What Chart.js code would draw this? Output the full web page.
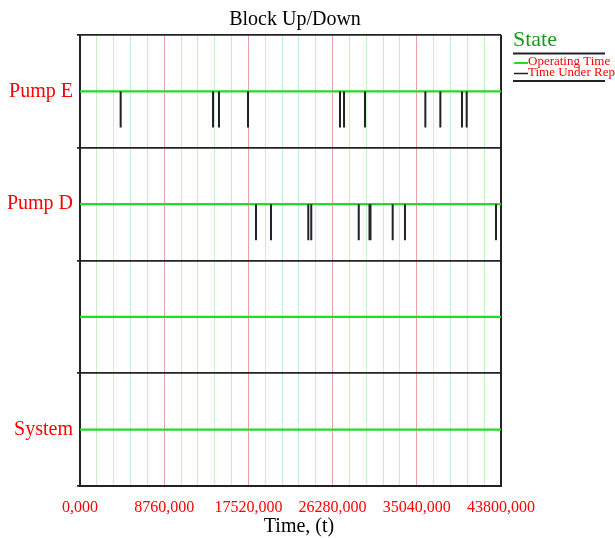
<!DOCTYPE html>
<html><head><meta charset="utf-8">
<script src="https://cdn.jsdelivr.net/npm/chart.js@4.4.0/dist/chart.umd.min.js"></script>
<style>html,body{margin:0;padding:0;background:#fff;overflow:hidden}#wrap{width:615px;height:538px;position:relative}</style>
</head><body><div id="wrap"><canvas id="c" width="615" height="538"></canvas></div>
<script>
// Rows, bottom to top
const rowLabels = ['System', '', 'Pump D', 'Pump E'];
const xMin = 0, xMax = 43800, xStep = 1752, xLabelStep = 8760;
// Failure (repair start) times
const pumpEFailures = [4230, 13840, 14460, 17480, 27050, 27470, 29650, 35930, 37490, 39740, 40230];
const pumpDFailures = [18310, 19870, 23750, 24060, 29000, 30120, 30220, 32530, 33810, 43280];
const repairDepth = 0.32;
const titleText = 'Block Up/Down';
const xTitleText = 'Time, (t)';
const legendTitle = 'State';
const legendItems = ['Operating Time', 'Time Under Rep'];

const SERIF = "'Liberation Serif', 'DejaVu Serif', serif";

const operating = [];
rowLabels.forEach((_, i) => {
  operating.push({x: xMin, y: i + 0.5}, {x: xMax, y: i + 0.5}, {x: xMax, y: null});
});
function bars(times, row) {
  const out = [];
  times.forEach(t => out.push({x: t, y: row + 0.5}, {x: t, y: row + 0.5 - repairDepth}, {x: t, y: null}));
  return out;
}
const repairs = bars(pumpEFailures, 3).concat(bars(pumpDFailures, 2));

const deco = {
  id: 'deco',
  afterDraw(chart) {
    const c = chart.ctx;
    c.save();
    c.fillStyle = '#000';
    c.font = '20px ' + SERIF;
    c.textAlign = 'center';
    c.textBaseline = 'middle';
    c.fillText(titleText, 295, 19.5);
    c.fillText(xTitleText, 299, 527);
    // legend
    c.textAlign = 'left';
    c.fillStyle = '#1a9a1a';
    c.font = '22px ' + SERIF;
    c.textBaseline = 'alphabetic';
    c.fillText(legendTitle, 513, 46);
    c.strokeStyle = '#222'; c.lineWidth = 1.8;
    c.beginPath(); c.moveTo(513, 53.5); c.lineTo(605, 53.5); c.stroke();
    c.beginPath(); c.moveTo(513, 81); c.lineTo(605, 81); c.stroke();
    c.strokeStyle = '#22dd22'; c.lineWidth = 2;
    c.beginPath(); c.moveTo(514, 63); c.lineTo(528, 63); c.stroke();
    c.strokeStyle = '#222'; c.lineWidth = 1.5;
    c.beginPath(); c.moveTo(514, 73.5); c.lineTo(528, 73.5); c.stroke();
    c.fillStyle = '#ff0000';
    c.font = '13px ' + SERIF;
    c.textBaseline = 'middle';
    c.fillText(legendItems[0], 528, 62);
    c.fillText(legendItems[1], 528, 73);
    c.restore();
  }
};

new Chart(document.getElementById('c'), {
  type: 'line',
  data: {
    datasets: [
      {label: 'Time Under Repair', data: repairs, borderColor: '#222', borderWidth: 2, pointRadius: 0, spanGaps: false, fill: false},
      {label: 'Operating Time', data: operating, borderColor: '#22dd22', borderWidth: 2.2, pointRadius: 0, spanGaps: false, fill: false}
    ]
  },
  options: {
    responsive: false,
    animation: false,
    devicePixelRatio: 1,
    layout: {padding: {left: 0, top: 35, right: 114, bottom: 0}},
    plugins: {legend: {display: false}, title: {display: false}, tooltip: {enabled: false}},
    scales: {
      x: {
        type: 'linear', min: xMin, max: xMax,
        afterBuildTicks(s) { const t = []; for (let v = xMin; v <= xMax; v += xStep) t.push({value: v}); s.ticks = t; },
        afterFit(s) { s.height = 52; },
        ticks: {
          autoSkip: false, maxRotation: 0, padding: 12, color: '#ff0000',
          font: {family: SERIF, size: 16},
          callback: v => (v % xLabelStep === 0 ? v.toFixed(3).replace('.', ',') : '')
        },
        grid: {
          drawTicks: false,
          color: ctx => {
            const v = ctx.tick ? ctx.tick.value : 0;
            if (v === xMin || v === xMax) return '#222';
            return v % xLabelStep === 0 ? '#e7a3a3' : '#c9efc9';
          },
          lineWidth: ctx => { const v = ctx.tick ? ctx.tick.value : 0; return (v === xMin || v === xMax) ? 2 : 1; }
        },
        border: {display: true, color: '#222', width: 2}
      },
      y: {
        type: 'linear', min: 0, max: rowLabels.length,
        afterBuildTicks(s) { const t = []; for (let v = 0; v <= rowLabels.length; v += 0.5) t.push({value: v}); s.ticks = t; },
        afterFit(s) { s.width = 80; },
        ticks: {
          autoSkip: false, padding: 4, color: '#ff0000',
          font: {family: SERIF, size: 20},
          callback: v => (Math.floor(v) !== v ? rowLabels[Math.floor(v)] : '')
        },
        grid: {
          tickLength: 3,
          color: ctx => { const v = ctx.tick ? ctx.tick.value : 0; return Number.isInteger(v) ? '#222' : 'rgba(0,0,0,0)'; },
          lineWidth: 1.8
        },
        border: {display: true, color: '#222', width: 2}
      }
    }
  },
  plugins: [deco]
});
</script></body></html>
